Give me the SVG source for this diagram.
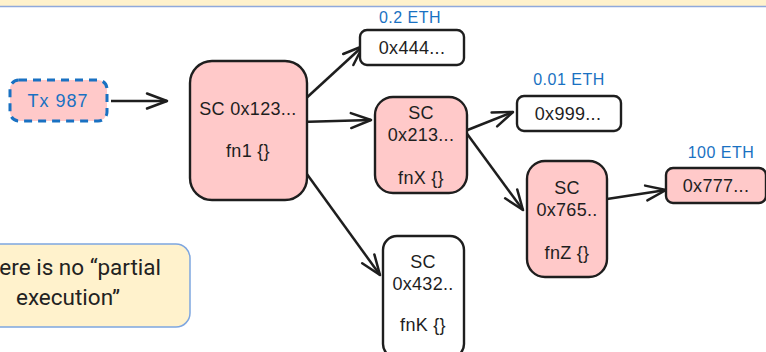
<svg xmlns="http://www.w3.org/2000/svg" width="766" height="352" viewBox="0 0 766 352">
<style>
.box{stroke:#1e1e1e;stroke-width:2.4}
.pink{fill:#ffc9c9}
.white{fill:#ffffff}
.t{font-family:"Liberation Sans",Arial,sans-serif;font-size:18px;fill:#1e1e1e;text-anchor:middle;letter-spacing:0.3px}
.eth{font-family:"Liberation Sans",Arial,sans-serif;font-size:16px;fill:#1971c2;text-anchor:middle;letter-spacing:0.5px}
.conn{stroke:#1e1e1e;stroke-width:2.5;fill:none;marker-end:url(#arr)}
.note{font-family:Roboto,"Liberation Sans",sans-serif;font-size:22.5px;fill:#222222}
</style>
<defs>
<marker id="arr" markerUnits="userSpaceOnUse" markerWidth="30" markerHeight="30" viewBox="-25 -12 30 24" refX="0" refY="0" orient="auto" overflow="visible">
<path d="M-20,-7.5 L0,0 L-20,7.5" fill="none" stroke="#1e1e1e" stroke-width="2.5" stroke-linecap="round" stroke-linejoin="round"/>
</marker>
</defs>
<rect width="766" height="352" fill="#ffffff"/>
<g id="banner">
<rect x="0" y="0" width="766" height="6.5" fill="#fff2cc"/>
<line x1="0" y1="6.5" x2="766" y2="6.5" stroke="#8fa9db" stroke-width="1.6"/>
</g>
<g id="connectors">
<path class="conn" d="M111,101 L167,101"/>
<path class="conn" d="M302,102 L363,46"/>
<path class="conn" d="M300,122 L371,120"/>
<path class="conn" d="M296,159 L380,275"/>
<path class="conn" d="M465,131 L513,112"/>
<path class="conn" d="M465,131 L523,210"/>
<path class="conn" d="M607,199 L666,190"/>
</g>
<g id="tx987">
<rect x="10" y="80" width="97" height="41" rx="9" fill="#ffc9c9" stroke="#1971c2" stroke-width="3" stroke-dasharray="8 6"/>
<text x="58" y="107" class="t" style="fill:#1971c2;letter-spacing:1px">Tx 987</text>
</g>
<g id="sc123">
<rect class="box pink" x="190" y="61" width="117" height="139" rx="22"/>
<text x="248" y="115" class="t">SC 0x123...</text>
<text x="248" y="157" class="t">fn1 {}</text>
</g>
<g id="addr444">
<text x="410" y="23" class="eth">0.2 ETH</text>
<rect class="box white" x="360" y="30" width="104" height="35" rx="7"/>
<text x="412" y="54" class="t">0x444...</text>
</g>
<g id="sc213">
<rect class="box pink" x="375" y="97" width="92" height="96" rx="18"/>
<text x="421" y="119" class="t">SC</text>
<text x="421" y="141" class="t">0x213...</text>
<text x="421" y="184" class="t">fnX {}</text>
</g>
<g id="addr999">
<text x="569" y="85" class="eth">0.01 ETH</text>
<rect class="box white" x="517" y="96" width="104" height="35" rx="7"/>
<text x="568" y="120" class="t">0x999...</text>
</g>
<g id="sc765">
<rect class="box pink" x="527" y="161" width="80" height="116" rx="18"/>
<text x="567" y="194" class="t">SC</text>
<text x="567" y="216" class="t">0x765..</text>
<text x="567" y="259" class="t">fnZ {}</text>
</g>
<g id="addr777">
<text x="721" y="158" class="eth">100 ETH</text>
<rect class="box pink" x="666" y="168" width="100" height="35" rx="7"/>
<text x="716" y="192" class="t">0x777...</text>
</g>
<g id="sc432">
<rect class="box white" x="383" y="236" width="81" height="122" rx="14"/>
<text x="423" y="268" class="t">SC</text>
<text x="423" y="290" class="t">0x432..</text>
<text x="423" y="331" class="t">fnK {}</text>
</g>
<g id="note">
<rect x="-54" y="244" width="244" height="83" rx="14" fill="#fff2cc" stroke="#7ea6e0" stroke-width="1.5"/>
<text x="161" y="275" class="note" text-anchor="end">ere is no “partial</text>
<text x="68" y="305" class="note" text-anchor="middle">execution”</text>
</g>
</svg>
